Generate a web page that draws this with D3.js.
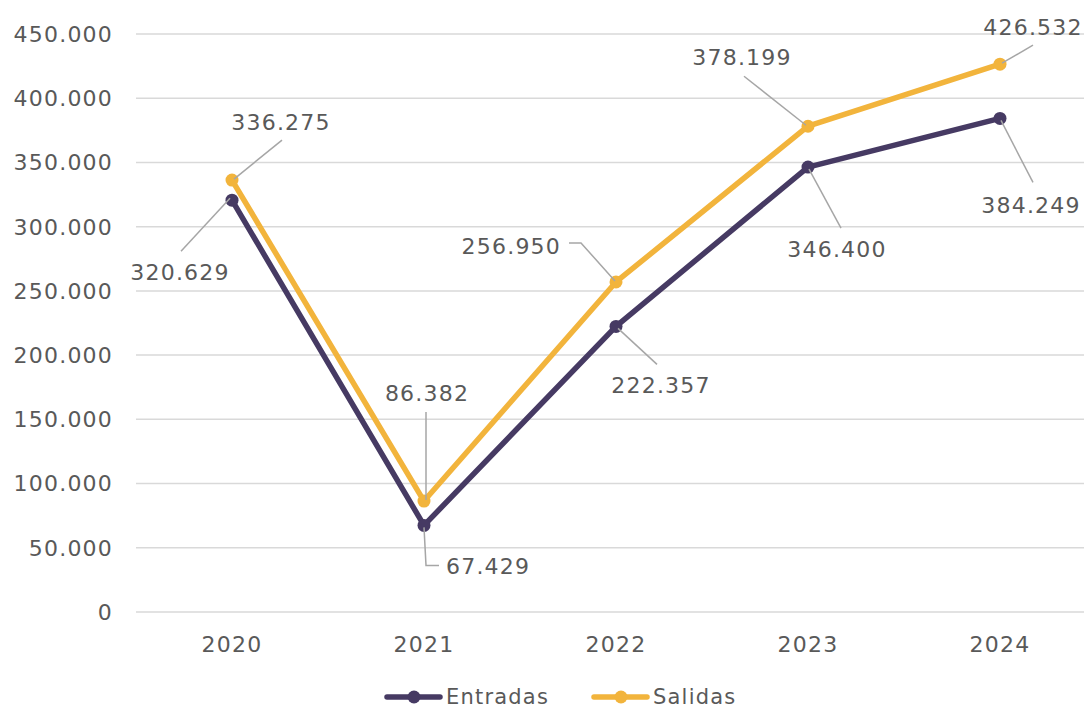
<!DOCTYPE html>
<html>
<head>
<meta charset="utf-8">
<script src="https://cdn.jsdelivr.net/npm/d3@7"></script>
<style>
  body { margin: 0; background: #fff; }
  svg text { font-family: "DejaVu Sans", sans-serif; fill: #595959; letter-spacing: 1.2px; }
</style>
</head>
<body>
<svg id="chart" width="1084" height="708"></svg>
<script>
// data
const years = ["2020", "2021", "2022", "2023", "2024"];
const entradas = [320629, 67429, 222357, 346400, 384249];
const salidas = [336275, 86382, 256950, 378199, 426532];
const yTicks = [0, 50000, 100000, 150000, 200000, 250000, 300000, 350000, 400000, 450000];

// label placement relative to each point: text offset, anchor, leader path
const entradasLabels = [
  { dx: -52, dy: 72, anchor: "middle", path: [[-2, -2], [-51, 51]] },
  { dx: 22, dy: 41, anchor: "start", path: [[0, 2], [2, 40], [15, 40]] },
  { dx: 45, dy: 59, anchor: "middle", path: [[2, 2], [41, 38]] },
  { dx: 29, dy: 82, anchor: "middle", path: [[1, 2], [33, 61]] },
  { dx: 31, dy: 87, anchor: "middle", path: [[1, 2], [33, 64]] }
];
const salidasLabels = [
  { dx: 49, dy: -58, anchor: "middle", path: [[2, -1], [50, -40]] },
  { dx: 3, dy: -108, anchor: "middle", path: [[2, -1], [2, -89]] },
  { dx: -55, dy: -36, anchor: "end", path: [[-1, -1], [-35, -39], [-47, -39]] },
  { dx: -66, dy: -69, anchor: "middle", path: [[-2, -1], [-64, -50]] },
  { dx: 33, dy: -37, anchor: "middle", path: [[2, -1], [33, -19]] }
];

const series = [
  { name: "Entradas", values: entradas, color: "#463a63", labels: entradasLabels },
  { name: "Salidas", values: salidas, color: "#f2b43c", labels: salidasLabels }
];

const es = d3.formatLocale({ decimal: ",", thousands: ".", grouping: [3], currency: ["", " €"] });
const fmt = es.format(",d");

const svg = d3.select("#chart");
const margin = { top: 34, right: -12, bottom: 96, left: 136 };
const width = 1084 - margin.left - margin.right,
  height = 708 - margin.top - margin.bottom;
const fontSize = "22px";

const x = d3.scaleBand().domain(years).range([margin.left, margin.left + width]);
const y = d3.scaleLinear().domain([0, 450000]).range([margin.top + height, margin.top]);

// gridlines
svg.append("g")
  .selectAll("line")
  .data(yTicks)
  .join("line")
  .attr("x1", margin.left)
  .attr("x2", 1084)
  .attr("y1", d => y(d))
  .attr("y2", d => y(d))
  .attr("stroke", "#d9d9d9")
  .attr("stroke-width", 1.5);

// y tick labels
svg.append("g")
  .selectAll("text")
  .data(yTicks)
  .join("text")
  .attr("x", 113)
  .attr("y", d => y(d))
  .attr("dy", "0.36em")
  .attr("text-anchor", "end")
  .style("font-size", fontSize)
  .text(d => fmt(d));

// x tick labels
svg.append("g")
  .selectAll("text")
  .data(years)
  .join("text")
  .attr("x", d => x(d) + x.bandwidth() / 2)
  .attr("y", 644)
  .attr("dy", "0.36em")
  .attr("text-anchor", "middle")
  .style("font-size", fontSize)
  .text(d => d);

const cx = i => x(years[i]) + x.bandwidth() / 2;

const line = d3.line()
  .x((d, i) => cx(i))
  .y(d => y(d));

series.forEach(s => {
  svg.append("path")
    .datum(s.values)
    .attr("d", line)
    .attr("fill", "none")
    .attr("stroke", s.color)
    .attr("stroke-width", 5.5)
    .attr("stroke-linejoin", "round");

  svg.append("g")
    .selectAll("circle")
    .data(s.values)
    .join("circle")
    .attr("cx", (d, i) => cx(i))
    .attr("cy", d => y(d))
    .attr("r", 6.5)
    .attr("fill", s.color);
});

// leaders cross the marker in the reference, so they go on top
series.forEach(s => {
  svg.append("g")
    .selectAll("path")
    .data(s.values)
    .join("path")
    .attr("d", (d, i) => {
      const px = cx(i), py = y(d);
      return "M" + s.labels[i].path.map(p => (px + p[0]) + "," + (py + p[1])).join("L");
    })
    .attr("fill", "none")
    .attr("stroke", "#a6a6a6")
    .attr("stroke-width", 1.5);

  svg.append("g")
    .selectAll("text")
    .data(s.values)
    .join("text")
    .attr("x", (d, i) => cx(i) + s.labels[i].dx)
    .attr("y", (d, i) => y(d) + s.labels[i].dy)
    .attr("dy", "0.36em")
    .attr("text-anchor", (d, i) => s.labels[i].anchor)
    .style("font-size", fontSize)
    .text(d => fmt(d));
});

// legend
const legendItems = [
  { s: series[0], x0: 387 },
  { s: series[1], x0: 594 }
];
const lg = svg.append("g");
legendItems.forEach(it => {
  lg.append("line")
    .attr("x1", it.x0).attr("x2", it.x0 + 53)
    .attr("y1", 697).attr("y2", 697)
    .attr("stroke", it.s.color)
    .attr("stroke-width", 5.5)
    .attr("stroke-linecap", "round");
  lg.append("circle")
    .attr("cx", it.x0 + 27).attr("cy", 697)
    .attr("r", 6.5)
    .attr("fill", it.s.color);
  lg.append("text")
    .attr("x", it.x0 + 59)
    .attr("y", 704)
    .style("font-size", "21px")
    .text(it.s.name);
});
</script>
</body>
</html>
